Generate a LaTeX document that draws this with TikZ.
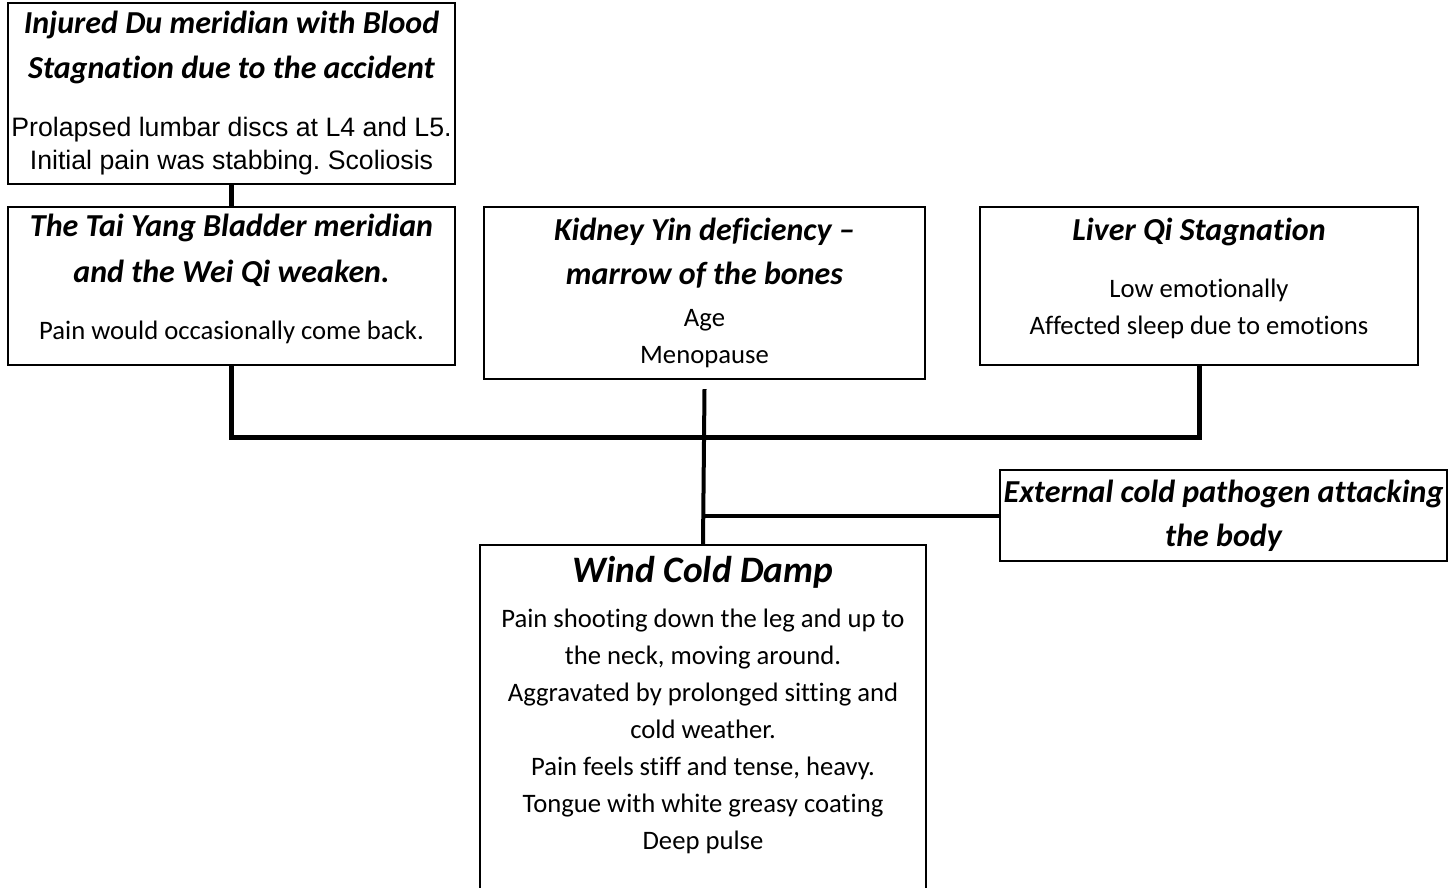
\documentclass[tikz,border=0pt]{standalone}
\usepackage{fontspec}
\setmainfont[Ligatures={NoCommon}]{Carlito}
\newfontfamily\arialfont{Liberation Sans}
\usetikzlibrary{fit}
\frenchspacing

\newcommand\hdr{\fontsize{24}{27.75}\selectfont\bfseries\itshape}
\newcommand\bighdr{\fontsize{28}{27.75}\selectfont\bfseries\itshape}

\begin{document}
\begin{tikzpicture}[x=0.75pt,y=-0.75pt,
  box/.style={draw,line width=1.2pt,inner sep=0pt},
  txt/.style={anchor=north,align=center,inner sep=0pt,font=\fontsize{20}{27.75}\selectfont},
  link/.style={line width=3.75pt},
  thin link/.style={line width=3pt}]
\useasboundingbox (0,0) rectangle (1450,888);

% boxes
\node[box,fit={(8,3) (455,184)}] (du) {};
\node[box,fit={(8,207) (455,365)}] (taiyang) {};
\node[box,fit={(484,207) (925,379)}] (kidney) {};
\node[box,fit={(980,207) (1418,365)}] (liver) {};
\node[box,fit={(1000,470) (1447,561)}] (external) {};
\node[box,fit={(480,545) (926,910)}] (wind) {};

% texts
\node[txt] (du text) at (231.5,11) {{\hdr Injured Du meridian with Blood}\\[6pt]
  {\hdr Stagnation due to the accident}\\[15.75pt]
  {\arialfont Prolapsed lumbar discs at L4 and L5.}\\[-3pt]
  {\arialfont Initial pain was stabbing. Scoliosis}};
\node[txt] (taiyang text) at (231.5,214) {{\hdr The Tai Yang Bladder meridian}\\[6.75pt]
  {\hdr and the Wei Qi weaken.}\\[15pt]
  Pain would occasionally come back.};
\node[txt] (kidney text) at (704.5,218) {{\hdr Kidney Yin deficiency --}\\[5.25pt]
  {\hdr marrow of the bones}\\[3.75pt]
  Age\\
  Menopause};
\node[txt] (liver text) at (1199,218) {{\hdr Liver Qi Stagnation}\\[15pt]
  Low emotionally\\
  Affected sleep due to emotions};
\node[txt] (external text) at (1223.5,480) {{\hdr External cold pathogen attacking}\\[5.25pt]
  {\hdr the body}};
\node[txt] (wind text) at (703,556) {{\bighdr Wind Cold Damp}\\[6pt]
  Pain shooting down the leg and up to\\
  the neck, moving around.\\
  Aggravated by prolonged sitting and\\
  cold weather.\\
  Pain feels stiff and tense, heavy.\\
  Tongue with white greasy coating\\
  Deep pulse};

% connectors
\coordinate (joint) at (704.5,437);
\draw[link] (du.south) -- (taiyang.north);
\draw[link] (taiyang.south) |- (joint) -| (liver.south);
\draw[thin link] ([yshift=-7pt]kidney.south) -- (wind.north);
\draw[thin link] (external.west) -- (external.west -| wind.north);
\end{tikzpicture}
\end{document}
